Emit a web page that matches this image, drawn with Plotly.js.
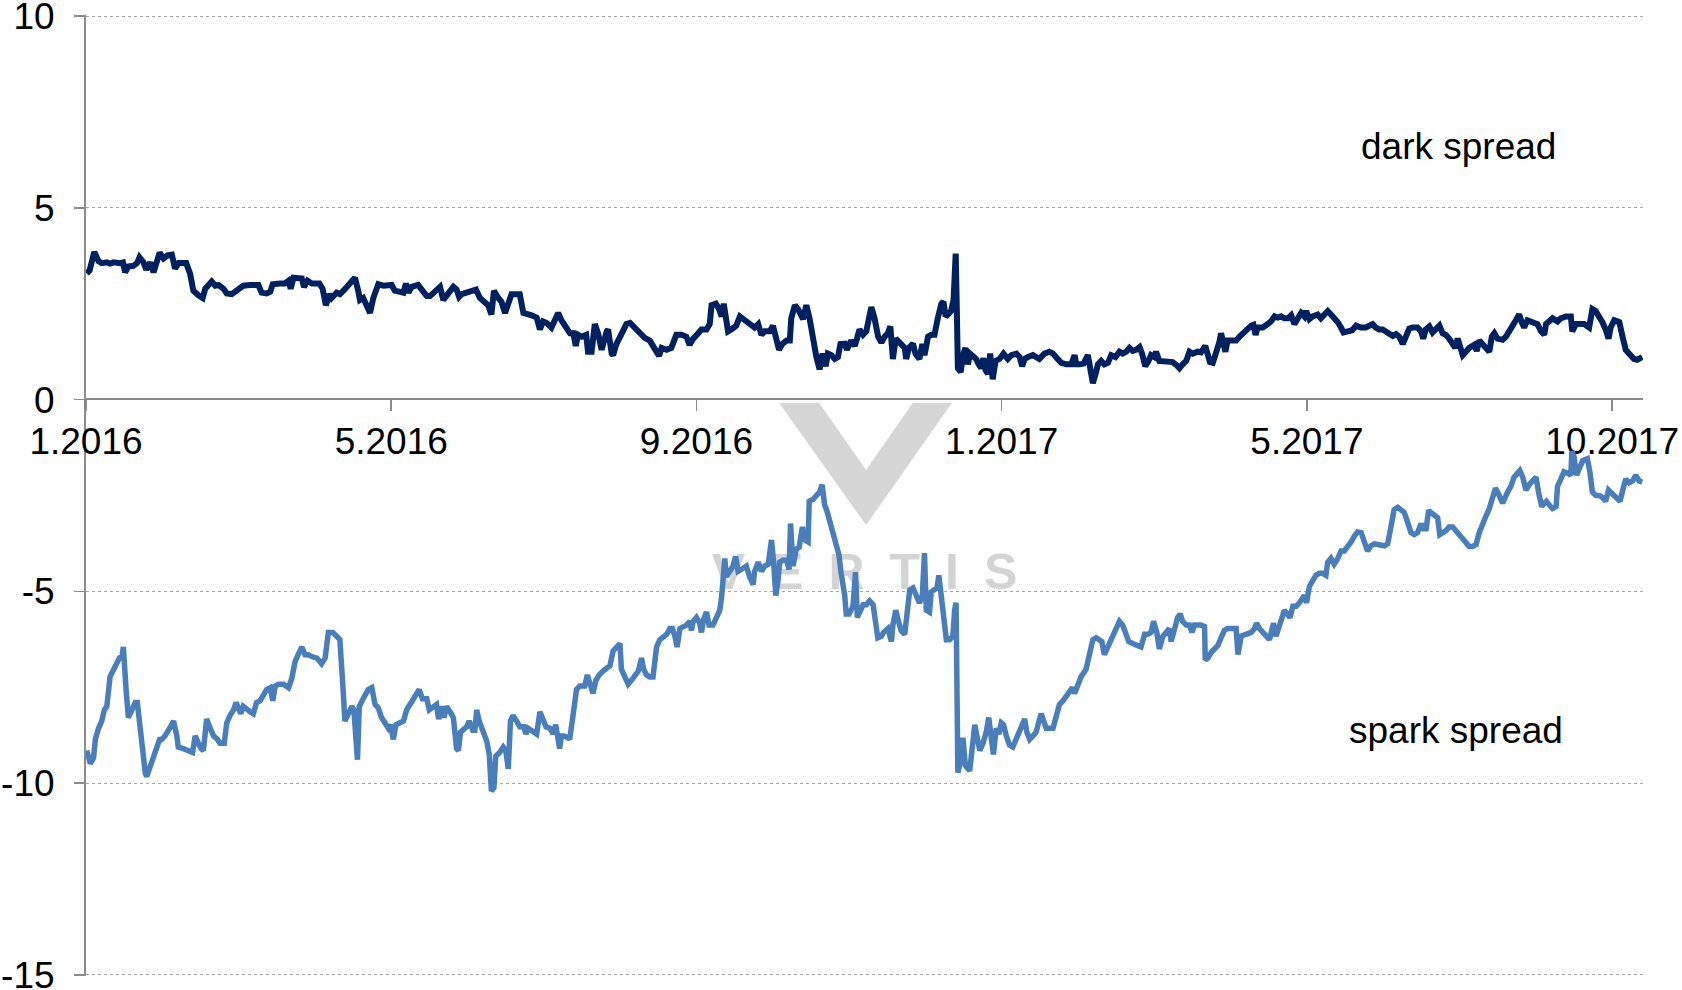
<!DOCTYPE html>
<html>
<head>
<meta charset="utf-8">
<script src="https://cdn.plot.ly/plotly-3.0.1.min.js"></script>
<style>
  html, body { margin: 0; padding: 0; background: #ffffff; }
  #chart { width: 1682px; height: 990px; }
</style>
</head>
<body>
<div id="chart"></div>
<script>
// x = trading-day index from the start of January 2016
const tickPositions = [0, 85, 170, 255, 340, 425];
const tickLabels = ["1.2016", "5.2016", "9.2016", "1.2017", "5.2017", "10.2017"];
const yTicks = [-15, -10, -5, 0, 5, 10];

const darkX = [0.2,1.0,2.3,3.5,4.4,5.8,6.7,7.7,9.5,10.3,10.9,11.8,13.2,14.2,14.9,16.0,16.8,17.9,18.8,19.7,20.5,21.6,22.7,23.9,24.8,25.8,27.9,29.0,29.9,31.3,32.5,33.2,34.1,35.0,36.0,36.9,38.3,39.2,40.6,42.0,43.8,45.7,47.1,48.0,48.9,50.3,51.3,52.0,54.0,55.4,56.4,57.0,57.8,59.1,60.1,60.7,61.7,62.9,65.0,65.9,66.8,67.8,68.4,69.8,70.7,71.7,73.1,74.9,75.8,76.3,77.2,78.2,79.1,80.0,81.4,82.8,84.2,85.1,86.0,87.4,88.4,89.1,89.8,90.7,92.5,93.5,94.9,95.8,97.2,98.6,99.5,100.4,101.4,102.3,103.2,103.9,104.6,106.0,107.4,108.6,109.7,111.1,112.0,112.9,113.6,114.8,115.7,116.7,117.6,118.5,119.4,120.8,121.8,122.7,124.1,125.5,126.4,127.3,128.3,129.6,130.6,131.5,132.4,133.8,134.8,135.7,136.4,137.0,138.0,139.3,139.8,140.8,141.7,142.6,143.6,145.0,145.4,146.4,146.8,147.7,149.1,150.5,151.5,152.8,153.8,154.7,155.6,157.0,158.4,159.6,160.3,161.7,163.0,164.4,165.8,167.2,168.1,169.1,170.5,171.4,172.8,173.7,174.2,175.4,176.3,177.0,177.6,178.3,178.8,180.0,181.1,182.1,183.5,184.8,186.2,187.2,188.1,189.0,190.4,191.3,192.1,193.0,193.9,195.1,196.0,196.4,197.4,198.3,199.7,200.6,201.5,202.5,203.4,204.3,205.1,206.0,206.6,207.6,208.5,209.4,210.1,211.3,211.9,213.1,214.1,214.7,215.4,216.4,217.3,218.7,219.6,220.6,221.5,222.4,223.3,224.0,224.7,225.5,226.4,227.3,228.0,228.4,229.2,230.3,231.0,232.1,232.9,233.5,234.5,235.4,236.3,237.2,238.2,238.8,239.4,240.0,240.9,241.6,242.2,242.5,242.8,243.6,244.2,244.9,245.6,246.2,247.0,247.9,248.6,249.3,249.9,250.5,251.2,251.8,252.5,253.3,254.4,255.5,256.7,257.7,259.1,260.0,260.7,261.4,262.3,263.7,265.5,266.9,268.3,269.3,270.4,271.6,273.0,274.4,275.3,275.8,276.7,277.8,279.0,279.8,280.4,281.3,281.8,282.7,283.6,284.6,285.5,286.7,287.8,288.7,289.7,290.6,291.5,292.4,293.4,294.1,295.0,295.9,296.6,297.5,298.0,298.9,299.9,301.3,302.6,303.8,304.5,305.4,306.4,307.3,308.2,309.6,310.5,311.7,312.4,313.0,313.8,314.7,315.6,316.1,316.7,317.3,317.9,319.4,320.3,321.2,322.1,323.5,324.5,325.1,325.7,326.3,327.7,329.1,330.0,331.0,331.9,332.8,333.7,334.7,335.6,336.5,337.4,338.4,339.3,339.8,340.7,341.6,343.0,343.9,344.9,345.8,346.7,347.7,348.6,349.5,350.2,351.4,352.6,353.7,355.0,356.4,357.4,358.3,359.2,360.1,361.1,362.0,363.0,363.9,364.8,365.7,366.7,367.6,368.5,369.4,370.8,371.8,372.4,373.1,374.1,375.0,375.9,376.9,377.8,378.7,379.6,380.6,381.3,382.0,382.9,383.4,384.3,385.2,386.6,387.3,388.0,388.9,389.9,390.8,391.5,392.2,393.1,394.5,395.4,396.4,397.3,398.2,399.1,399.9,400.5,401.4,402.8,404.2,405.2,406.1,406.6,407.5,408.4,409.8,410.7,412.1,413.5,413.9,414.9,415.8,417.2,418.6,419.5,420.4,421.4,422.3,423.2,424.0,424.6,425.6,426.5,427.0,427.9,428.8,429.7,431.1,432.0,433.4];
const darkSpread = [3.29,3.37,3.85,3.61,3.56,3.58,3.55,3.58,3.56,3.58,3.32,3.47,3.49,3.56,3.71,3.58,3.39,3.58,3.32,3.58,3.83,3.68,3.76,3.78,3.42,3.56,3.56,3.28,2.84,2.72,2.65,2.89,2.99,3.08,2.97,2.99,2.89,2.77,2.75,2.84,2.97,2.99,2.97,2.99,2.79,2.77,2.81,3.01,3.03,3.03,3.10,2.89,3.18,3.18,3.16,2.94,3.10,3.03,3.03,2.89,2.46,2.75,2.65,2.79,2.75,2.84,2.99,3.18,2.84,2.60,2.65,2.46,2.26,2.65,3.01,2.97,2.97,2.99,2.84,2.79,2.79,3.03,2.79,2.94,2.99,2.87,2.70,2.70,2.81,2.94,2.60,2.70,2.84,2.94,2.87,2.68,2.75,2.79,2.84,2.87,2.65,2.55,2.46,2.22,2.84,2.65,2.55,2.26,2.50,2.75,2.75,2.75,2.26,2.22,2.20,2.14,1.83,2.04,2.00,1.88,2.12,2.26,2.07,1.85,1.73,1.73,1.40,1.69,1.64,1.69,1.25,1.25,1.97,1.73,1.30,1.78,1.83,1.20,1.16,1.45,1.73,1.97,2.00,1.88,1.81,1.69,1.61,1.54,1.35,1.14,1.35,1.30,1.35,1.69,1.69,1.64,1.43,1.59,1.73,1.83,1.83,1.97,2.46,2.50,2.36,2.17,2.50,2.07,1.78,1.85,1.93,2.17,2.07,1.97,1.88,1.97,1.69,1.78,1.78,1.93,1.54,1.30,1.45,1.54,1.54,2.12,2.46,2.36,2.10,2.46,2.12,1.45,1.11,0.79,1.20,0.87,1.20,1.16,1.06,1.11,1.45,1.46,1.30,1.54,1.40,1.59,1.83,1.69,1.78,2.41,2.12,1.64,1.49,1.64,1.73,1.91,1.06,1.59,1.49,1.40,1.35,1.06,1.35,1.46,1.20,1.06,1.45,1.16,1.64,1.69,1.69,2.12,2.50,2.55,2.17,2.22,2.31,2.60,3.81,2.41,0.82,0.72,1.16,1.35,0.92,1.20,1.11,1.06,0.92,0.82,1.08,0.77,0.67,1.20,0.53,1.01,1.06,1.20,1.06,1.16,1.20,1.11,0.87,1.06,1.11,1.16,1.06,1.20,1.25,1.20,1.08,0.96,0.92,0.92,1.16,0.92,0.92,0.94,1.16,0.58,0.43,0.72,0.92,1.01,0.92,0.96,1.16,1.11,1.25,1.20,1.25,1.35,1.27,1.30,1.37,1.20,0.87,1.01,1.16,1.11,1.25,1.01,1.01,1.01,0.98,0.89,0.82,0.92,1.01,1.25,1.20,1.25,1.23,1.40,1.16,0.98,0.96,1.20,1.49,1.73,1.49,1.25,1.54,1.54,1.54,1.64,1.73,1.88,1.93,1.95,1.69,1.88,1.88,1.97,2.04,2.17,2.14,2.17,2.12,2.12,2.20,1.97,2.12,2.26,2.17,2.31,2.10,2.17,2.22,2.12,2.22,2.31,2.22,2.12,2.02,1.88,1.75,1.78,1.81,1.93,1.88,1.88,1.93,1.97,1.88,1.83,1.83,1.78,1.73,1.66,1.71,1.64,1.45,1.69,1.85,1.88,1.88,1.78,1.59,1.83,1.91,1.75,1.83,1.93,1.73,1.69,1.59,1.46,1.35,1.59,1.30,1.16,1.25,1.35,1.43,1.27,1.54,1.45,1.30,1.25,1.64,1.73,1.59,1.56,1.64,1.83,1.93,2.07,2.22,2.00,1.88,2.07,2.04,1.97,1.78,1.69,1.97,2.07,2.12,2.04,2.12,2.17,2.17,1.78,1.97,1.97,1.97,1.88,2.36,2.31,2.17,2.02,1.83,1.59,1.88,2.07,2.04,2.02,1.64,1.30,1.20,1.06,1.04,1.11];

const sparkX = [0.2,1.2,2.1,2.6,3.5,4.4,5.1,5.8,6.7,7.7,8.6,9.3,10.0,10.4,11.2,11.8,12.8,13.7,14.3,15.1,15.8,16.5,16.9,17.9,18.8,19.7,20.5,21.1,22.0,23.3,24.4,25.3,25.7,27.1,28.5,29.7,30.4,31.3,32.0,32.7,33.6,34.6,35.5,36.6,37.3,38.5,39.2,40.1,41.1,41.8,42.5,43.1,43.8,44.8,45.7,46.6,47.5,48.5,49.2,50.3,51.3,52.0,52.7,53.6,55.0,56.4,57.3,58.2,59.1,60.1,61.0,61.9,62.9,64.3,65.6,66.6,67.5,68.7,69.8,70.7,71.5,72.1,73.1,74.0,74.6,75.2,75.6,76.1,76.8,77.7,78.6,79.6,80.5,81.4,82.3,83.3,84.2,84.8,85.6,86.3,87.4,88.4,89.3,90.7,91.9,92.8,93.7,94.9,95.6,96.7,97.6,98.2,99.0,99.7,100.4,101.4,102.3,103.2,103.7,104.3,105.3,106.0,106.7,107.7,108.3,108.8,109.5,110.4,111.6,112.3,112.9,113.6,114.1,115.2,116.2,116.9,117.6,118.2,118.9,119.9,120.8,121.9,122.5,123.1,124.4,125.5,126.4,127.3,128.1,129.2,130.1,130.8,131.5,131.9,132.4,133.1,134.3,134.7,135.7,136.6,137.5,138.9,139.6,140.5,141.2,142.0,142.9,144.0,145.0,145.9,146.8,147.6,148.7,149.1,150.1,151.0,151.9,152.8,153.8,154.7,155.3,156.1,157.0,157.9,158.4,158.9,159.8,160.7,161.7,162.6,163.3,164.0,164.6,165.4,166.3,167.2,168.2,168.6,169.1,170.0,170.9,171.4,172.0,172.8,173.5,174.6,175.6,176.5,177.0,177.4,177.9,178.3,179.5,180.2,180.9,181.6,182.5,183.9,184.8,185.8,186.2,187.2,188.1,189.0,190.0,190.9,191.5,192.1,192.7,193.2,194.1,195.1,195.8,196.2,196.9,197.8,198.6,199.5,200.2,201.1,201.4,202.5,203.4,204.3,205.0,205.7,206.3,207.1,208.0,208.9,209.7,210.3,211.3,211.7,212.5,213.6,214.3,214.8,215.8,216.4,217.3,218.2,219.2,220.1,220.5,221.5,222.1,223.3,224.3,224.7,225.5,226.1,227.0,228.0,228.6,229.4,230.3,231.7,232.1,232.9,233.5,234.0,234.9,235.4,237.0,237.5,238.2,238.8,239.6,240.5,241.4,241.9,242.3,242.8,243.5,244.2,244.9,246.1,246.8,247.5,248.1,248.9,249.8,250.7,251.4,252.1,252.7,253.5,254.2,254.9,255.5,256.3,257.2,258.1,258.9,259.8,260.7,261.4,262.0,262.8,263.7,264.6,265.4,266.0,266.7,267.4,269.3,270.2,271.1,272.1,273.0,273.9,274.7,275.3,276.2,277.1,278.5,279.5,280.4,281.3,282.2,282.9,283.6,284.6,285.5,286.4,287.3,287.8,288.7,289.7,290.4,291.5,292.9,293.8,294.8,295.7,296.6,297.3,298.2,298.9,299.9,301.0,301.7,302.2,303.1,304.0,304.7,305.4,306.4,307.3,308.0,308.7,310.5,311.5,311.7,312.4,313.3,314.2,315.2,316.1,317.0,317.9,320.3,320.8,321.7,323.0,324.5,325.4,326.0,326.8,327.7,328.6,329.6,330.3,330.7,331.4,332.2,333.1,333.7,334.7,335.3,336.1,337.0,337.9,338.7,339.3,339.9,340.7,341.6,342.5,343.5,344.4,345.3,345.8,346.7,347.6,348.6,349.5,350.4,351.4,352.3,353.2,354.1,355.1,356.0,356.9,357.8,358.8,361.6,362.5,363.4,364.3,365.3,366.2,367.1,368.0,369.0,369.9,370.8,371.8,372.2,373.2,373.9,374.5,375.5,376.4,377.0,377.8,378.7,379.6,380.6,381.5,382.4,383.4,384.3,385.2,386.1,387.1,388.0,388.9,389.9,390.8,391.7,392.5,393.1,393.8,394.5,395.9,396.8,397.7,398.7,399.3,400.1,401.0,401.9,402.9,403.8,404.5,405.4,406.1,406.7,407.5,408.4,409.4,409.8,410.5,411.0,411.6,412.9,413.5,413.8,414.4,415.1,415.8,416.8,418.1,418.8,419.5,420.5,421.4,422.3,423.2,424.0,425.1,426.2,427.2,428.1,428.8,429.7,430.7,431.6,432.5,433.4];
const sparkSpread = [-9.15,-9.49,-9.34,-8.86,-8.57,-8.38,-8.09,-8.00,-7.23,-7.03,-6.89,-6.74,-6.74,-6.45,-7.61,-8.29,-8.09,-7.90,-7.90,-8.57,-9.34,-9.73,-9.83,-9.54,-9.34,-9.10,-8.86,-8.86,-8.77,-8.57,-8.38,-8.77,-9.06,-9.10,-9.15,-9.20,-8.77,-8.96,-9.10,-9.15,-8.33,-8.57,-8.77,-8.86,-8.96,-8.96,-8.43,-8.24,-8.09,-7.90,-8.04,-8.19,-8.00,-8.09,-8.14,-8.19,-7.90,-7.85,-7.76,-7.56,-7.51,-7.85,-7.47,-7.42,-7.42,-7.51,-7.27,-6.84,-6.65,-6.45,-6.65,-6.65,-6.70,-6.74,-6.89,-6.74,-6.07,-6.07,-6.17,-6.26,-7.42,-8.38,-8.19,-8.00,-8.09,-8.77,-9.39,-8.00,-7.85,-7.71,-7.56,-7.51,-7.95,-8.04,-8.29,-8.43,-8.57,-8.48,-8.86,-8.48,-8.43,-8.38,-8.09,-7.90,-7.71,-7.56,-7.80,-7.80,-8.09,-8.00,-7.95,-8.33,-8.00,-8.29,-8.00,-8.14,-8.29,-9.10,-9.15,-8.67,-8.57,-8.53,-8.38,-8.62,-8.62,-8.09,-8.38,-8.57,-8.91,-9.25,-10.21,-10.12,-9.30,-9.20,-9.06,-9.15,-9.63,-8.38,-8.24,-8.38,-8.53,-8.53,-8.72,-8.57,-8.67,-8.72,-8.14,-8.38,-8.53,-8.57,-8.72,-8.48,-8.82,-9.10,-8.77,-8.77,-8.82,-8.86,-8.19,-7.56,-7.47,-7.47,-7.18,-7.42,-7.66,-7.32,-7.18,-7.08,-6.98,-6.94,-6.55,-6.45,-6.36,-7.03,-7.23,-7.42,-7.32,-7.18,-7.08,-6.74,-7.03,-7.18,-7.23,-7.23,-6.65,-6.45,-6.26,-6.17,-6.12,-5.97,-5.97,-6.17,-6.45,-5.97,-5.92,-5.88,-5.78,-6.02,-5.78,-5.68,-5.83,-6.07,-5.73,-5.54,-5.88,-5.88,-5.68,-5.49,-5.15,-4.72,-4.14,-4.62,-4.43,-4.34,-4.09,-4.48,-4.43,-4.34,-4.62,-4.82,-4.48,-4.24,-4.48,-4.34,-4.29,-3.66,-4.24,-5.11,-4.72,-4.24,-4.19,-4.19,-4.43,-3.23,-4.34,-3.90,-3.85,-3.32,-3.66,-3.71,-2.65,-2.60,-2.50,-2.41,-2.22,-2.75,-2.89,-3.18,-3.47,-3.76,-4.05,-4.53,-5.11,-5.59,-5.59,-5.39,-4.50,-5.68,-5.49,-5.35,-5.35,-5.25,-5.35,-5.88,-6.21,-6.17,-6.07,-5.97,-6.31,-5.88,-5.49,-5.73,-6.02,-6.12,-5.68,-4.96,-4.91,-5.20,-5.30,-5.11,-4.00,-5.49,-5.54,-5.01,-4.91,-4.58,-5.11,-5.68,-6.26,-6.26,-6.17,-5.49,-5.30,-9.73,-9.44,-8.82,-9.54,-9.68,-9.01,-8.48,-8.77,-9.15,-8.96,-8.67,-8.29,-8.77,-9.25,-8.57,-8.72,-8.43,-8.48,-8.77,-9.01,-9.06,-8.86,-8.67,-8.43,-8.33,-8.67,-8.86,-8.77,-8.67,-8.38,-8.19,-8.38,-8.57,-8.57,-8.19,-7.95,-7.85,-7.71,-7.61,-7.51,-7.66,-7.42,-7.23,-7.03,-6.65,-6.26,-6.21,-6.26,-6.31,-6.65,-6.45,-6.26,-6.02,-5.83,-5.78,-5.88,-6.17,-6.31,-6.36,-6.41,-6.45,-6.12,-6.12,-6.07,-5.78,-6.07,-6.50,-6.17,-6.02,-5.97,-6.31,-6.02,-5.68,-5.59,-5.78,-5.88,-5.88,-6.07,-5.88,-5.88,-5.92,-6.79,-6.74,-6.60,-6.50,-6.41,-6.21,-6.02,-5.97,-5.97,-6.65,-6.17,-6.12,-6.07,-5.97,-5.83,-5.97,-6.07,-6.17,-6.26,-5.97,-5.83,-6.17,-5.88,-5.68,-5.49,-5.59,-5.68,-5.39,-5.39,-5.30,-5.20,-5.11,-5.30,-4.87,-4.72,-4.58,-4.53,-4.53,-4.58,-4.24,-4.14,-4.29,-4.14,-3.95,-3.95,-3.85,-3.71,-3.56,-3.45,-3.47,-3.76,-3.95,-3.81,-3.76,-3.81,-3.76,-3.32,-2.87,-2.81,-2.89,-2.94,-3.18,-3.47,-3.52,-3.47,-3.23,-3.37,-3.37,-2.89,-2.94,-3.03,-3.08,-3.52,-3.47,-3.42,-3.32,-3.32,-3.42,-3.52,-3.66,-3.76,-3.83,-3.83,-3.78,-3.47,-3.23,-3.03,-2.84,-2.60,-2.31,-2.41,-2.60,-2.70,-2.41,-2.26,-2.02,-1.93,-1.85,-2.02,-2.36,-2.22,-2.12,-2.02,-2.41,-2.79,-2.70,-2.65,-2.75,-2.84,-2.79,-2.26,-2.12,-2.02,-1.88,-1.93,-1.97,-1.35,-1.49,-1.97,-1.83,-1.59,-1.54,-1.88,-2.41,-2.50,-2.50,-2.55,-2.65,-2.36,-2.46,-2.55,-2.65,-2.31,-2.07,-2.17,-2.12,-1.97,-2.12,-2.15];

const FONT = "Liberation Sans, Arial, sans-serif";
const AXIS_GREY = "#8c8c8c";

const traces = [
  {
    x: sparkX, y: sparkSpread, type: "scatter", mode: "lines", name: "spark spread",
    line: { color: "#4a7ebb", width: 5.5, shape: "linear" }, hoverinfo: "skip"
  },
  {
    x: darkX, y: darkSpread, type: "scatter", mode: "lines", name: "dark spread",
    line: { color: "#002060", width: 6, shape: "linear" }, hoverinfo: "skip"
  }
];

const layout = {
  width: 1682, height: 990,
  margin: { l: 86, r: 39, t: 15, b: 14 },
  paper_bgcolor: "#ffffff", plot_bgcolor: "#ffffff",
  showlegend: false,
  font: { family: FONT, size: 37, color: "#000000" },
  xaxis: {
    range: [0, 433.6],
    anchor: "free", position: 0.6,
    showline: true, linecolor: AXIS_GREY, linewidth: 2,
    ticks: "outside", ticklen: 11, tickwidth: 1.5, tickcolor: AXIS_GREY,
    tickmode: "array", tickvals: tickPositions, ticktext: tickLabels,
    tickfont: { family: FONT, size: 37, color: "#000000" },
    ticklabelstandoff: -2, ticklabeloverflow: "allow",
    showgrid: false, zeroline: false, layer: "below traces", fixedrange: true
  },
  yaxis: {
    range: [-15.03, 10.03],
    tickmode: "array", tickvals: yTicks, ticktext: yTicks.map(String),
    showgrid: true, gridcolor: "#a6a6a6", gridwidth: 1, griddash: "dot",
    showline: true, linecolor: AXIS_GREY, linewidth: 2,
    ticks: "outside", ticklen: 10, tickwidth: 1.5, tickcolor: AXIS_GREY,
    tickfont: { family: FONT, size: 37, color: "#000000" },
    ticklabelstandoff: 12, ticklabeloverflow: "allow",
    zeroline: false, layer: "below traces", fixedrange: true
  },
  shapes: [
    {
      type: "path", xref: "paper", yref: "paper", layer: "below",
      path: "M0.4451,0.5965 L0.4708,0.5965 L0.5010,0.5266 L0.5311,0.5965 L0.5562,0.5965 L0.5010,0.4692 Z",
      fillcolor: "#d6d6d6", line: { width: 0 }
    },
    {
      type: "rect", xref: "paper", yref: "paper", layer: "below",
      x0: 0.40, x1: 0.60, y0: 0.396, y1: 0.456,
      fillcolor: "rgba(0,0,0,0)", line: { width: 0 },
      label: {
        text: "<b>V\u2002E\u2002R\u2002T\u2002I\u2002S</b>",
        textposition: "middle center",
        font: { family: FONT, size: 50, color: "#d4d4d4", weight: "bold" }
      }
    }
  ],
  annotations: [
    { x: 382.3, y: 6.6, xref: "x", yref: "y", text: "dark spread", showarrow: false,
      font: { family: FONT, size: 37, color: "#000000" }, xanchor: "center", yanchor: "middle" },
    { x: 381.5, y: -8.62, xref: "x", yref: "y", text: "spark spread", showarrow: false,
      font: { family: FONT, size: 37, color: "#000000" }, xanchor: "center", yanchor: "middle" }
  ]
};

Plotly.newPlot("chart", traces, layout, { displayModeBar: false, staticPlot: true });
</script>
</body>
</html>
